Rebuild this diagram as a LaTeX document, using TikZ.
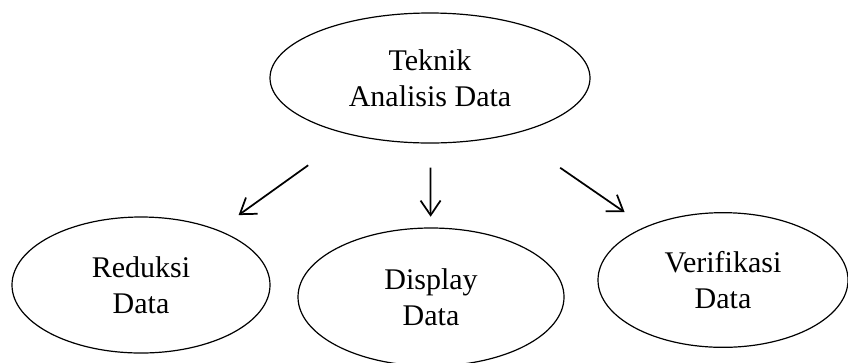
\documentclass[tikz,border=0pt]{standalone}
\usepackage{fontspec}
\setmainfont{Liberation Serif}
\usepackage{tikz}
\usetikzlibrary{shapes.geometric,arrows.meta}

\begin{document}
\begin{tikzpicture}[
    x=0.75pt, y=-0.75pt,
    oval/.style={ellipse, draw=black, line width=0.9pt, inner sep=0pt, align=center, font=\fontsize{22.5}{27.4}\selectfont},
    arr/.style={-{Straight Barb[length=11pt, width=15pt]}, line width=1.3pt, draw=black}
]
    \useasboundingbox (0,0) rectangle (848,362);

    % Nodes
    \node (teknik) [oval, minimum width=240pt, minimum height=97.5pt] at (430,78) {Teknik\\Analisis Data};

    \node (reduksi) [oval, minimum width=193.5pt, minimum height=102pt] at (141,285) {Reduksi\\Data};

    \node (display) [oval, minimum width=199.5pt, minimum height=103.5pt] at (431,297) {Display\\Data};

    \node (verifikasi) [oval, minimum width=187.5pt, minimum height=101pt] at (723,280) {Verifikasi\\Data};

    % Connectors
    \draw [arr, shorten <=39pt, shorten >=19pt] (teknik) -- (reduksi);
    \draw [arr, shorten <=18pt, shorten >=8pt] (teknik) -- (display);
    \draw [arr, shorten <=44pt, shorten >=19pt] (teknik) -- (verifikasi);
\end{tikzpicture}
\end{document}
